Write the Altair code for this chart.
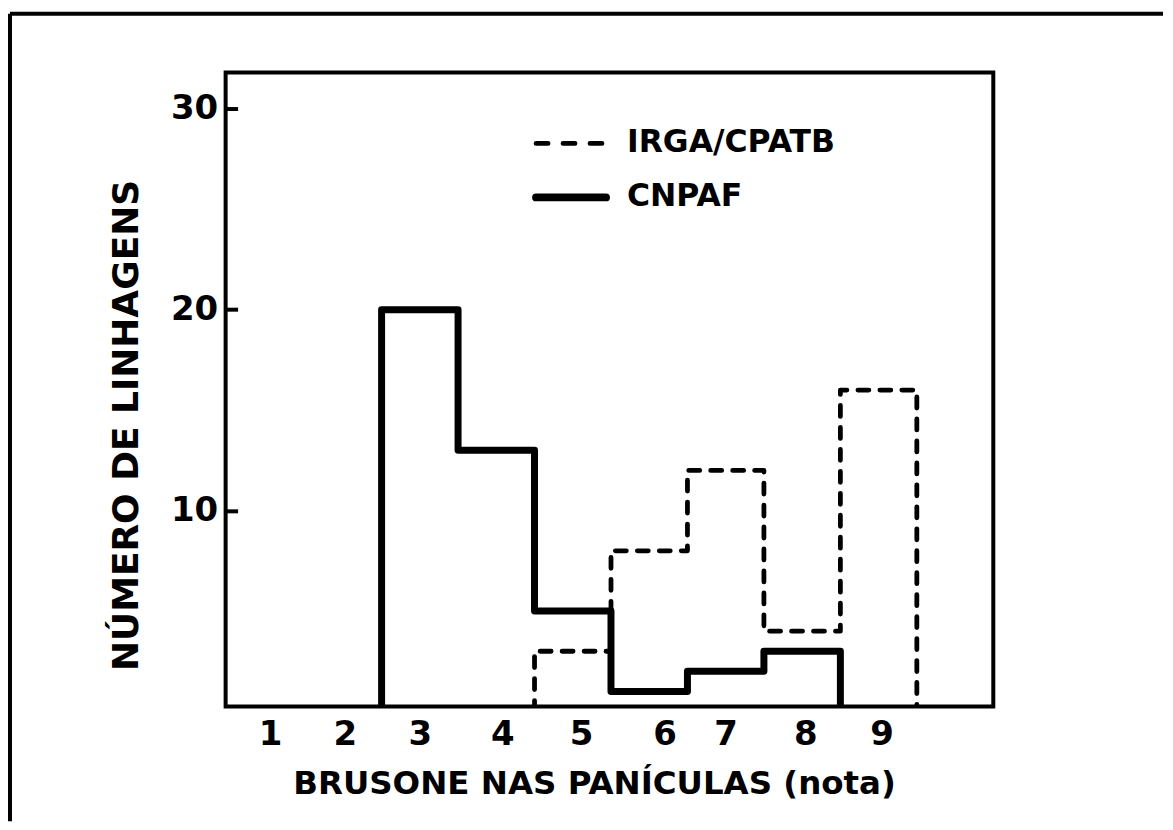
import altair as alt
import pandas as pd

# ---- data ----
notas = [1, 2, 3, 4, 5, 6, 7, 8, 9]
label_pos = [1.04, 2.02, 3.0, 4.08, 5.11, 6.2, 7.0, 8.04, 9.04]   # where the hand-lettered tick labels sit
irga_notas = [5, 6, 7, 8, 9]
irga_linhagens = [3, 8, 12, 4, 16]
cnpaf_notas = [3, 4, 5, 6, 7, 8]
cnpaf_linhagens = [20, 13, 5, 1, 2, 3]
y_ticks = [10, 20, 30]
series = ["IRGA/CPATB", "CNPAF"]


def step_rows(name, bins, vals):
    rows = []
    i = 0
    rows.append(dict(serie=name, x=bins[0] - 0.5, y=0, o=i)); i += 1
    for b, v in zip(bins, vals):
        rows.append(dict(serie=name, x=b - 0.5, y=v, o=i)); i += 1
        rows.append(dict(serie=name, x=b + 0.5, y=v, o=i)); i += 1
    rows.append(dict(serie=name, x=bins[-1] + 0.5, y=0, o=i))
    return rows


df = pd.DataFrame(step_rows(series[0], irga_notas, irga_linhagens)
                  + step_rows(series[1], cnpaf_notas, cnpaf_linhagens))

FONT = "DejaVu Sans"
DASH = [11, 11]
LEG_DASH = [12, 15]
xs = alt.Scale(domain=[0.46, 10.5], nice=False, zero=False)
ys = alt.Scale(domain=[0.25, 31.8], nice=False, zero=False)

lines = alt.Chart(df).mark_line(
    color="black", clip=True, strokeCap="round", strokeJoin="round"
).encode(
    x=alt.X("x:Q", scale=xs, axis=alt.Axis(
        values=label_pos, labelExpr="format(round(datum.value), 'd')",
        ticks=False, domain=False, grid=False, labelOverlap=False, labelFlush=False,
        labelFont=FONT, labelFontSize=34, labelFontWeight="bold", labelColor="black",
        labelBaseline="middle", labelPadding=28,
        title="BRUSONE NAS PANÍCULAS (nota)", titleFont=FONT, titleFontSize=32.5,
        titleFontWeight="bold", titleColor="black", titleX=369, titleY=77,
        titleAlign="center", titleBaseline="middle",
    )),
    y=alt.Y("y:Q", scale=ys, axis=alt.Axis(
        values=y_ticks, offset=-12, tickSize=12, tickWidth=4, tickColor="black",
        domain=False, grid=False,
        labelFont=FONT, labelFontSize=34, labelFontWeight="bold", labelColor="black",
        labelPadding=8,
        title="NÚMERO DE LINHAGENS", titleFont=FONT, titleFontSize=36,
        titleFontWeight="bold", titleColor="black", titleAngle=270,
        titleX=-111, titleY=353, titleAlign="center", titleBaseline="middle",
    )),
    strokeDash=alt.StrokeDash("serie:N", scale=alt.Scale(domain=series, range=[DASH, [1, 0]]), legend=None),
    strokeWidth=alt.StrokeWidth("serie:N", scale=alt.Scale(domain=series, range=[4.8, 7]), legend=None),
    detail="serie:N",
    order="o:Q",
)

one = pd.DataFrame({"k": [0]})

# legend (drawn by hand to match the figure's lettering)
leg_dash = alt.Chart(one).mark_rule(color="black", strokeWidth=4.8, strokeDash=LEG_DASH, strokeCap="round").encode(
    x=alt.value(311), x2=alt.value(382), y=alt.value(71)
)
leg_solid = alt.Chart(one).mark_rule(color="black", strokeWidth=8, strokeCap="round").encode(
    x=alt.value(311), x2=alt.value(381), y=alt.value(125)
)
leg_t1 = alt.Chart(one).mark_text(
    font=FONT, fontSize=31.5, fontWeight="bold", color="black", align="left", baseline="middle"
).encode(x=alt.value(402), y=alt.value(71), text=alt.value(series[0]))
leg_t2 = alt.Chart(one).mark_text(
    font=FONT, fontSize=31.5, fontWeight="bold", color="black", align="left", baseline="middle"
).encode(x=alt.value(402), y=alt.value(125), text=alt.value(series[1]))

# outer frame of the figure
top_edge = alt.Chart(one).mark_rule(color="black", strokeWidth=4).encode(
    x=alt.value(-216), x2=alt.value(939), y=alt.value(-59)
)
left_edge = alt.Chart(one).mark_rule(color="black", strokeWidth=4).encode(
    x=alt.value(-216), y=alt.value(-59), y2=alt.value(750)
)

chart = alt.layer(lines, leg_dash, leg_solid, leg_t1, leg_t2, top_edge, left_edge).properties(
    width=769, height=635,
    padding={"left": 0, "top": 3, "right": 0, "bottom": 0},
    background="white",
).configure_view(stroke="black", strokeWidth=4)

chart.save("out.html", embed_options={"renderer": "svg", "actions": False})
